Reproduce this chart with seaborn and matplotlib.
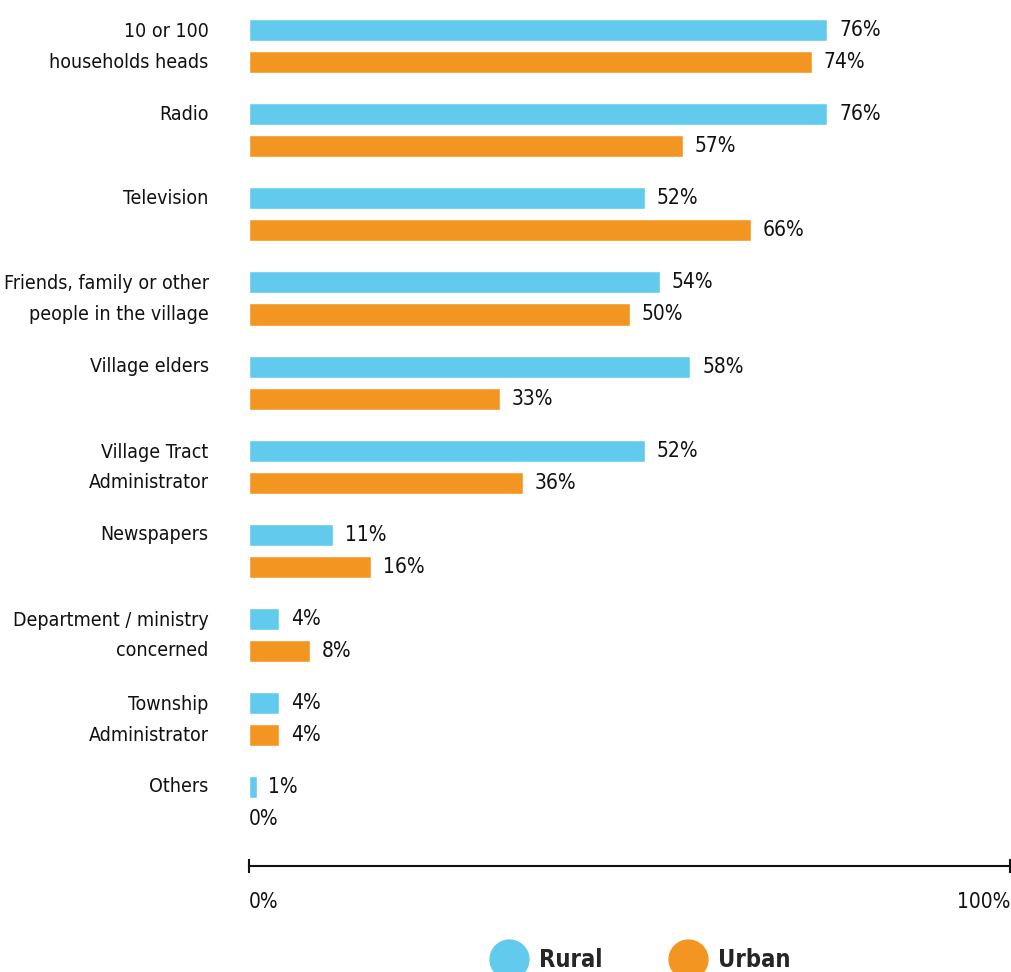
import matplotlib
matplotlib.use("Agg")
import matplotlib.pyplot as plt
import matplotlib.transforms as mtransforms
from matplotlib.lines import Line2D
import seaborn as sns
import pandas as pd

categories = [
    "10 or 100\nhouseholds heads",
    "Radio",
    "Television",
    "Friends, family or other\npeople in the village",
    "Village elders",
    "Village Tract\nAdministrator",
    "Newspapers",
    "Department / ministry\nconcerned",
    "Township\nAdministrator",
    "Others",
]
rural = [76, 76, 52, 54, 58, 52, 11, 4, 4, 1]
urban = [74, 57, 66, 50, 33, 36, 16, 8, 4, 0]
series_names = ["Rural", "Urban"]
colors = ["#62CBED", "#F39621"]

sns.set_theme(style="white")
plt.rcParams["font.family"] = ["DejaVu Sans"]
plt.rcParams["font.stretch"] = "condensed"

df = pd.DataFrame({
    "Source": categories * 2,
    "Area": [series_names[0]] * len(categories) + [series_names[1]] * len(categories),
    "Value": rural + urban,
})

fig = plt.figure(figsize=(10.11, 9.72), dpi=100)
ax = fig.add_axes([249 / 1011, (972 - 866) / 972, 761 / 1011, 866 / 972])

sns.barplot(data=df, y="Source", x="Value", hue="Area", orient="h",
            palette=colors, width=0.762, gap=0.3125, legend=False,
            saturation=1, ax=ax)

ax.set_xlim(0, 100)
ax.set_ylim(9.75, -0.55)
ax.set_xlabel("")
ax.set_ylabel("")
ax.set_xticks([0, 100])
ax.set_xticklabels(["0%", "100%"])
for s in ["top", "right", "left"]:
    ax.spines[s].set_visible(False)
ax.spines["bottom"].set_color("#111111")
ax.spines["bottom"].set_linewidth(1.5)
ax.tick_params(axis="x", bottom=True, direction="inout", length=10, width=1.5, color="#111111",
               labelsize=15, pad=14, labelcolor="#111111")
ax.get_xticklabels()[0].set_horizontalalignment("left")
ax.get_xticklabels()[1].set_horizontalalignment("right")
ax.tick_params(axis="y", length=0, labelsize=14, pad=29, labelcolor="#111111")
shift_single = mtransforms.ScaledTranslation(0, 18 / 100, fig.dpi_scale_trans)
shift_multi = mtransforms.ScaledTranslation(0, 7 / 100, fig.dpi_scale_trans)
for t in ax.get_yticklabels():
    t.set_linespacing(1.78)
    if "\n" not in t.get_text():
        t.set_transform(t.get_transform() + shift_single)
    else:
        t.set_transform(t.get_transform() + shift_multi)

for container in ax.containers:
    for patch in container:
        w = patch.get_width()
        y = patch.get_y() + patch.get_height() / 2
        off = 8.5 if w > 0 else 0
        ax.annotate(f"{w:.0f}%", (w, y), xytext=(off, 0), textcoords="offset points",
                    va="center", ha="left", fontsize=15, color="#111111")

handles = [Line2D([0], [0], marker="o", linestyle="", markersize=28,
                  markerfacecolor=c, markeredgecolor=c) for c in colors]
leg = fig.legend(handles, series_names, loc="center", bbox_to_anchor=(0.631, 0.012),
                 ncol=2, frameon=False, handletextpad=0.3,
                 columnspacing=2.6, prop={"weight": "bold", "size": 17})

fig.savefig("out.png", dpi=100)
